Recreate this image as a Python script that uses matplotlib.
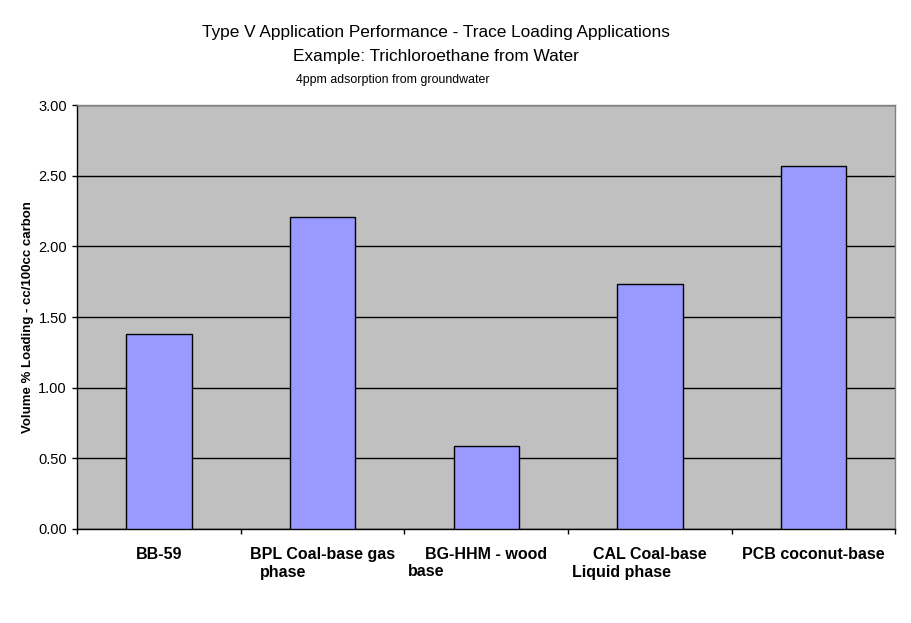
import matplotlib.pyplot as plt
import matplotlib.transforms as mtransforms
import numpy as np

plt.rcParams['font.family'] = ['Liberation Sans', 'DejaVu Sans']

# data
first_lines = ['BB-59', 'BPL Coal-base gas', 'BG-HHM - wood', 'CAL Coal-base', 'PCB coconut-base']
second_lines = ['', 'phase', 'base', 'Liquid phase', '']
loading = [1.38, 2.21, 0.585, 1.73, 2.57]
y_ticks = [0.0, 0.5, 1.0, 1.5, 2.0, 2.5, 3.0]

fig = plt.figure(figsize=(9.12, 6.23), dpi=100)
ax = fig.add_axes([77 / 912, 94 / 623, 818.5 / 912, 424 / 623])
ax.set_facecolor('#C0C0C0')

x = np.arange(len(loading))
ax.bar(x, loading, width=0.4, color='#9999FF', edgecolor='black',
       linewidth=1.0, zorder=3)

ax.set_xlim(-0.5, len(loading) - 0.5)
ax.set_ylim(0, 3.0)
ax.set_yticks(y_ticks)
ax.set_yticklabels(['%.2f' % v for v in y_ticks], fontsize=10.5)
ax.yaxis.grid(True, color='black', linewidth=1.0, zorder=1)
ax.set_axisbelow(True)

# ticks at category boundaries, labels at centres
ax.set_xticks(np.arange(len(loading) + 1) - 0.5)
ax.set_xticklabels([])
ax.set_xticks(x, minor=True)
ax.set_xticklabels(first_lines, minor=True, fontsize=11.5, fontweight='bold')
ax.tick_params(axis='x', which='minor', length=0, pad=13)
ax.tick_params(axis='x', which='major', length=3.6, width=1.0, direction='out')
ax.tick_params(axis='y', length=3.6, width=1.0, direction='out', pad=3.6)

# wrapped second lines sit a little to the left, as in the original
shift = [0, -63, -78, -78, 0]
for i, txt in enumerate(second_lines):
    if not txt:
        continue
    tr = mtransforms.offset_copy(ax.get_xaxis_transform(), fig=fig,
                                 x=shift[i], y=-43, units='dots')
    ax.text(i, 0, txt, transform=tr, ha='left', va='center',
            fontsize=11.5, fontweight='bold')

for side in ['top', 'right']:
    ax.spines[side].set_color('#808080')
    ax.spines[side].set_linewidth(1.0)
for side in ['left', 'bottom']:
    ax.spines[side].set_color('black')
    ax.spines[side].set_linewidth(1.0)

ax.set_ylabel('Volume % Loading - cc/100cc carbon', fontsize=9.5,
              fontweight='bold', labelpad=3)

fig.text(436 / 912, 1 - 32 / 623,
         'Type V Application Performance - Trace Loading Applications',
         ha='center', va='center', fontsize=12.4)
fig.text(436 / 912, 1 - 56 / 623, 'Example: Trichloroethane from Water',
         ha='center', va='center', fontsize=12.4)
fig.text(393 / 912, 1 - 80 / 623, '4ppm adsorption from groundwater',
         ha='center', va='center', fontsize=8.9)

fig.savefig('out.png', dpi=100)
